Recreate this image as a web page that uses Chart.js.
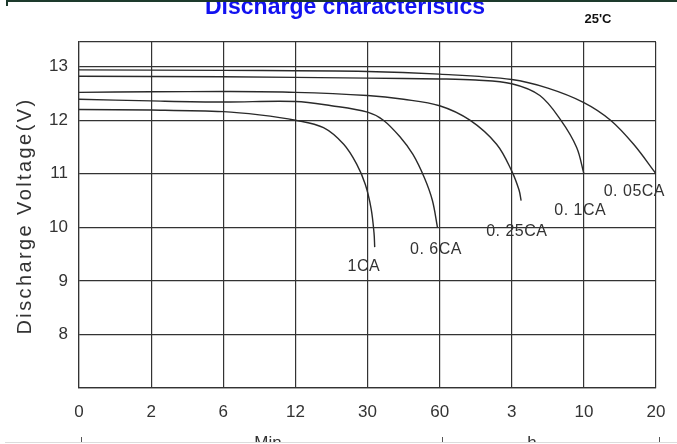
<!DOCTYPE html>
<html>
<head>
<meta charset="utf-8">
<script src="https://cdn.jsdelivr.net/npm/chart.js@4.4.0/dist/chart.umd.min.js"></script>
<style>
  html, body { margin: 0; padding: 0; background: #fff; }
  #wrap { width: 677px; height: 444px; }
</style>
</head>
<body>
<div id="wrap"><canvas id="canvas" width="677" height="444"></canvas></div>
<script>
// tick labels along the time axis (minutes first, then hours)
var xTickLabels = ['0', '2', '6', '12', '30', '60', '3', '10', '20'];
var yTickValues = [8, 9, 10, 11, 12, 13];
var unitNames = ['Min', 'h'];
var seriesNames = ['1CA', '0. 6CA', '0. 25CA', '0. 1CA', '0. 05CA'];

// x = position on the time axis (0 = "0", 8 = "20 h"), y = voltage
var ca1 = [[0,12.2],[1,12.19],[2,12.16],[2.5,12.1],[3,12.0],[3.39,11.86],[3.67,11.55],[3.85,11.18],[3.97,10.8],[4.05,10.35],[4.09,9.9],[4.1,9.63]];
var ca06 = [[0,12.39],[1,12.36],[2,12.34],[3,12.35],[3.5,12.27],[4,12.15],[4.22,12.0],[4.45,11.69],[4.63,11.36],[4.79,10.92],[4.9,10.5],[4.97,10.0]];
var ca025 = [[0,12.52],[1,12.53],[2,12.535],[3,12.52],[4,12.46],[4.5,12.39],[5,12.27],[5.42,12.0],[5.79,11.55],[6.0,11.05],[6.1,10.7],[6.13,10.5]];
var ca01 = [[0,12.82],[2,12.81],[4,12.785],[5,12.77],[5.5,12.75],[6,12.68],[6.39,12.46],[6.68,12.0],[6.9,11.49],[7.0,11.0]];
var ca005 = [[0,12.94],[2,12.93],[4,12.91],[5,12.86],[6,12.76],[6.5,12.6],[7,12.33],[7.37,12.0],[7.69,11.55],[8.0,11.0]];
var allSeries = [ca1, ca06, ca025, ca01, ca005];

// where each series name sits (same axis units)
var labelSpots = [[3.95, 9.27], [4.95, 9.59], [6.07, 9.92], [6.95, 10.31], [7.70, 10.67]];

var FONT = '"Liberation Sans", Arial, sans-serif';
var ink = '#333333';

function toPoints(arr) { return arr.map(p => ({x: p[0], y: p[1]})); }

var extras = {
  id: 'extras',
  afterDraw(chart) {
    var ctx = chart.ctx;
    var xs = chart.scales.x, ys = chart.scales.y;
    ctx.save();

    // title, cut at the top
    ctx.fillStyle = '#1212f0';
    ctx.font = 'bold 23px ' + FONT;
    ctx.textAlign = 'center';
    ctx.textBaseline = 'alphabetic';
    ctx.fillText('Discharge characteristics', 345, 14);

    ctx.fillStyle = '#111';
    ctx.font = 'bold 13px ' + FONT;
    ctx.fillText("25'C", 598, 23);

    // axis title
    ctx.save();
    ctx.translate(25, 216);
    ctx.rotate(-Math.PI / 2);
    ctx.fillStyle = ink;
    ctx.font = '20px ' + FONT;
    ctx.letterSpacing = '2.4px';
    ctx.textBaseline = 'middle';
    ctx.fillText('Discharge Voltage(V)', 0, 0);
    ctx.restore();

    // series names
    ctx.fillStyle = ink;
    ctx.font = '16px ' + FONT;
    ctx.letterSpacing = '0.5px';
    ctx.textBaseline = 'middle';
    seriesNames.forEach((n, i) => {
      ctx.fillText(n, xs.getPixelForValue(labelSpots[i][0]), ys.getPixelForValue(labelSpots[i][1]));
    });
    ctx.letterSpacing = '0px';

    // unit row below, cut by the page edge
    ctx.font = '17px ' + FONT;
    ctx.textBaseline = 'alphabetic';
    ctx.fillText(unitNames[0], 268, 448);
    ctx.fillText(unitNames[1], 532, 448);
    ctx.strokeStyle = '#555';
    ctx.lineWidth = 1;
    [81, 442, 659].forEach(px => {
      ctx.beginPath(); ctx.moveTo(px + 0.5, 437); ctx.lineTo(px + 0.5, 442); ctx.stroke();
    });
    ctx.fillStyle = '#fff';
    ctx.fillRect(0, 442, 677, 2);
    ctx.strokeStyle = '#dcdcdc';
    ctx.beginPath(); ctx.moveTo(5, 442.5); ctx.lineTo(677, 442.5); ctx.stroke();

    // frame remnant at the top
    ctx.strokeStyle = '#1d3a2c';
    ctx.lineWidth = 2;
    ctx.beginPath(); ctx.moveTo(7, 6); ctx.lineTo(7, 1); ctx.lineTo(677, 1); ctx.stroke();
    ctx.restore();
  }
};

new Chart(document.getElementById('canvas').getContext('2d'), {
  type: 'line',
  data: {
    datasets: allSeries.map((s, i) => ({
      label: seriesNames[i],
      data: toPoints(s),
      borderColor: '#2a2a2a',
      borderWidth: 1.4,
      pointRadius: 0,
      fill: false,
      tension: 0.35
    }))
  },
  options: {
    responsive: false,
    devicePixelRatio: 1,
    animation: false,
    layout: { padding: { left: 0, right: 21, top: 42, bottom: 0 } },
    plugins: { legend: { display: false }, tooltip: { enabled: false } },
    scales: {
      x: {
        type: 'linear', min: 0, max: 8,
        afterBuildTicks: sc => { sc.ticks = xTickLabels.map((t, i) => ({value: i})); },
        afterFit: sc => { sc.height = 56; sc.paddingRight = 0; sc.paddingLeft = 0; },
        ticks: { callback: v => xTickLabels[v], color: ink, font: { family: FONT, size: 17 }, padding: 14, maxRotation: 0 },
        grid: { color: ink, lineWidth: 1.2, drawTicks: false },
        border: { color: ink, width: 1.2 }
      },
      y: {
        type: 'linear', min: 7, max: 13.46,
        afterBuildTicks: sc => { sc.ticks = [7].concat(yTickValues, [13.46]).map(v => ({value: v})); },
        afterFit: sc => { sc.width = 79; },
        ticks: { callback: v => yTickValues.indexOf(v) >= 0 ? v : '', color: ink, font: { family: FONT, size: 17 }, padding: 11 },
        grid: { color: ink, lineWidth: 1.2, drawTicks: false },
        border: { color: ink, width: 1.2 }
      }
    }
  },
  plugins: [extras]
});
</script>
</body>
</html>
